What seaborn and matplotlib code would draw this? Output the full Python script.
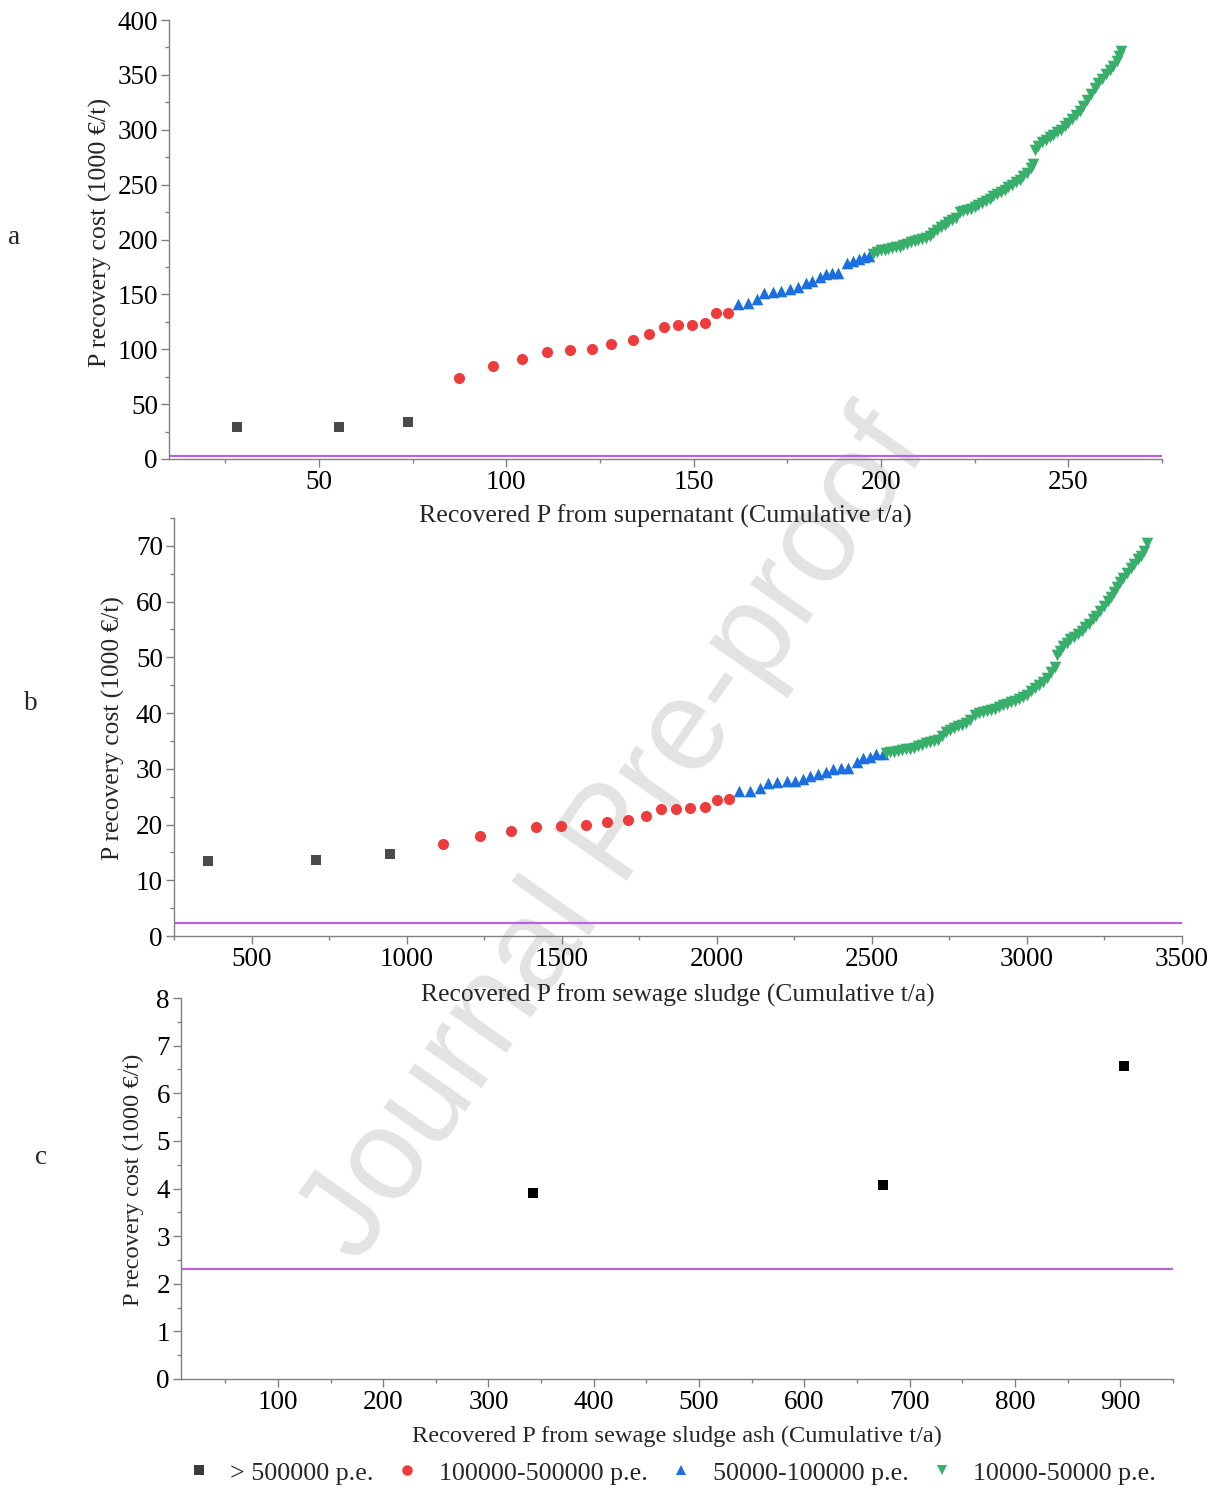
import numpy as np
import pandas as pd
import matplotlib
matplotlib.use("Agg")
import matplotlib.pyplot as plt
import seaborn as sns
from matplotlib.ticker import MultipleLocator
from matplotlib.lines import Line2D

sns.set_theme(style="ticks")
plt.rcParams['font.family'] = ['Liberation Serif', 'DejaVu Serif']

# ---------------- categories ----------------
categories = ["> 500000 p.e.", "100000-500000 p.e.", "50000-100000 p.e.", "10000-50000 p.e."]
cat_colors = ["#4a4a4a", "#ee3b3b", "#1b6fe0", "#38ae6b"]
cat_markers = ["s", "o", "^", "v"]
cat_sizes = [50, 64, 70, 70]

# ---------------- panel a : supernatant ----------------
a_large_x = [28.1, 55.3, 73.8]
a_large_y = [28.9, 29.2, 34.0]
a_mid_x = [87.3, 96.4, 104.1, 110.8, 116.9, 122.8, 128.0, 133.7, 138.1, 142.0,
           145.8, 149.5, 153.1, 156.1, 159.1]
a_mid_y = [73.5, 84.7, 91.4, 97.2, 99.3, 100.5, 105.0, 108.4, 113.6, 120.0,
           121.8, 122.4, 123.9, 132.8, 133.3]
a_small_x = [161.8, 164.5, 167.0, 168.9, 171.1, 173.4, 175.6, 177.8, 179.9, 181.7,
             183.6, 185.4, 187.0, 188.5, 190.9, 192.5, 194.1, 195.6, 196.9]
a_small_y = [141.2, 142.4, 145.5, 151.5, 151.9, 153.1, 154.6, 157.0, 160.1, 162.4,
             166.1, 168.3, 169.2, 169.8, 178.3, 180.7, 182.2, 183.8, 185.0]
a_tiny_x = [198.0, 199.0, 200.0, 201.0, 202.0, 203.0, 204.0, 205.0, 206.0, 207.0,
            208.0, 209.0, 210.0, 211.0, 212.0, 213.0, 214.0, 215.0, 216.0, 217.0,
            218.0, 219.0, 220.0, 221.0, 222.0, 223.0, 224.0, 225.0, 226.0, 227.0,
            228.0, 229.0, 230.0, 231.0, 232.0, 233.0, 234.0, 235.0, 236.0, 237.0,
            238.0, 239.0, 240.0, 240.7, 241.1, 242.0, 243.0, 244.0, 245.0, 246.0,
            247.0, 248.0, 249.0, 250.0, 251.0, 252.0, 253.0, 254.0, 255.0, 256.0,
            257.0, 258.0, 259.0, 260.0, 261.0, 262.0, 263.0, 263.6, 264.1]
a_tiny_y = [186.5, 189.0, 190.0, 190.8, 191.5, 192.2, 193.0, 193.6, 194.8, 196.0,
            197.5, 198.5, 199.5, 200.5, 201.5, 203.0, 206.0, 209.0, 211.0, 213.5,
            216.0, 217.5, 220.0, 225.0, 226.0, 227.0, 228.0, 229.5, 231.0, 233.0,
            235.0, 237.0, 239.5, 241.5, 243.5, 245.5, 248.0, 250.0, 252.0, 254.5,
            257.5, 261.0, 265.0, 269.0, 281.5, 285.0, 288.5, 291.0, 293.5, 295.5,
            297.5, 300.0, 303.0, 306.0, 309.5, 313.0, 317.0, 321.5, 327.0, 333.0,
            338.0, 342.5, 346.5, 350.5, 354.5, 358.5, 363.0, 367.0, 372.0]

# ---------------- panel b : sewage sludge ----------------
b_large_x = [359, 709, 947]
b_large_y = [13.5, 13.7, 14.7]
b_mid_x = [1117, 1238, 1335, 1418, 1499, 1577, 1646, 1713, 1771, 1820,
           1868, 1915, 1961, 2001, 2039]
b_mid_y = [16.5, 18.0, 18.8, 19.5, 19.8, 20.0, 20.5, 20.9, 21.6, 22.7,
           22.8, 23.0, 23.2, 24.4, 24.6]
b_small_x = [2072, 2107, 2139, 2166, 2195, 2225, 2252, 2278, 2302, 2327,
             2352, 2375, 2399, 2422, 2451, 2472, 2494, 2515, 2535]
b_small_y = [26.0, 26.1, 26.6, 27.5, 27.6, 27.8, 27.9, 28.2, 28.7, 29.0,
             29.5, 30.0, 30.2, 30.2, 31.3, 32.0, 32.2, 32.6, 32.7]
b_tiny_x = [2545, 2558, 2571, 2584, 2597, 2610, 2623, 2636, 2649, 2662,
            2675, 2688, 2701, 2714, 2727, 2740, 2753, 2766, 2779, 2792,
            2805, 2818, 2831, 2844, 2857, 2870, 2883, 2896, 2909, 2922,
            2935, 2948, 2961, 2974, 2987, 3000, 3013, 3026, 3039, 3052,
            3065, 3078, 3090, 3096, 3106, 3116, 3128, 3140, 3152, 3164,
            3176, 3188, 3200, 3212, 3224, 3236, 3248, 3260, 3270, 3280,
            3290, 3300, 3310, 3322, 3334, 3346, 3358, 3368, 3377, 3386]
b_tiny_y = [32.8, 33.0, 33.1, 33.2, 33.3, 33.5, 33.6, 33.8, 34.1, 34.3,
            34.6, 34.8, 35.0, 35.2, 35.9, 36.6, 37.0, 37.3, 37.6, 37.9,
            38.3, 38.8, 39.7, 40.0, 40.2, 40.4, 40.6, 40.8, 41.1, 41.4,
            41.7, 42.0, 42.2, 42.5, 42.8, 43.3, 44.0, 44.5, 45.0, 45.5,
            46.3, 47.3, 48.2, 50.5, 51.2, 52.0, 52.6, 53.2, 53.7, 54.1,
            54.7, 55.4, 56.0, 56.8, 57.5, 58.3, 59.2, 60.1, 60.9, 61.8,
            62.7, 63.5, 64.3, 65.2, 66.0, 66.8, 67.6, 68.2, 69.0, 70.6]

# ---------------- panel c : sewage sludge ash ----------------
c_large_x = [342, 675, 903]
c_large_y = [3.91, 4.08, 6.58]

threshold = 2.3

x_labels = ["Recovered P from supernatant (Cumulative t/a)",
            "Recovered P from sewage sludge (Cumulative t/a)",
            "Recovered P from sewage sludge ash (Cumulative t/a)"]
y_label = "P recovery cost (1000 \u20ac/t)"
panel_letters = ["a", "b", "c"]


def make_df(groups):
    frames = []
    for cat, xs, ys in groups:
        frames.append(pd.DataFrame({"x": xs, "y": ys, "cat": cat}))
    return pd.concat(frames, ignore_index=True)


df_a = make_df([(categories[0], a_large_x, a_large_y), (categories[1], a_mid_x, a_mid_y),
                (categories[2], a_small_x, a_small_y), (categories[3], a_tiny_x, a_tiny_y)])
df_b = make_df([(categories[0], b_large_x, b_large_y), (categories[1], b_mid_x, b_mid_y),
                (categories[2], b_small_x, b_small_y), (categories[3], b_tiny_x, b_tiny_y)])
df_c = make_df([(categories[0], c_large_x, c_large_y)])

W, H = 1214, 1488
fig = plt.figure(figsize=(W / 100, H / 100), dpi=100)
fig.patch.set_facecolor("white")


def px_axes(l, t, r, b):
    return fig.add_axes([l / W, 1 - b / H, (r - l) / W, (b - t) / H])


ax_a = px_axes(169, 20, 1162, 459)
ax_b = px_axes(174, 518, 1182, 936)
ax_c = px_axes(181, 998, 1173, 1379)

spine_col = "#808080"
tick_fs = 19.5
lab_sizes = [18.7, 18.35, 17.6]


def style_axis(ax):
    ax.patch.set_facecolor("none")
    for s in ["top", "right"]:
        ax.spines[s].set_visible(False)
    for s in ["left", "bottom"]:
        ax.spines[s].set_color(spine_col)
        ax.spines[s].set_linewidth(1.0)
    ax.tick_params(axis="both", which="major", length=6, width=1, color=spine_col,
                   labelsize=tick_fs, direction="out", pad=2, labelcolor="black")
    ax.tick_params(axis="both", which="minor", length=3, width=1, color=spine_col,
                   direction="out")
    ax.grid(False)


for ax, df in [(ax_a, df_a), (ax_b, df_b)]:
    for i, cat in enumerate(categories):
        sub = df[df["cat"] == cat]
        sns.scatterplot(data=sub, x="x", y="y", marker=cat_markers[i], color=cat_colors[i],
                        s=cat_sizes[i], linewidth=0, ax=ax, legend=False, zorder=3)

sns.scatterplot(data=df_c, x="x", y="y", marker="s", color="black", s=45,
                linewidth=0, ax=ax_c, legend=False, zorder=3)

line_col = "#bd62de"
for ax in [ax_a, ax_b, ax_c]:
    ax.axhline(threshold, color=line_col, lw=1.6, zorder=2)
    style_axis(ax)

# limits and ticks
ax_a.set_xlim(10, 275)
ax_a.set_ylim(0, 400)
ax_a.xaxis.set_major_locator(MultipleLocator(50))
ax_a.xaxis.set_minor_locator(MultipleLocator(25))
ax_a.yaxis.set_major_locator(MultipleLocator(50))
ax_a.yaxis.set_minor_locator(MultipleLocator(25))

ax_b.set_xlim(250, 3500)
ax_b.set_ylim(0, 75)
ax_b.xaxis.set_major_locator(MultipleLocator(500))
ax_b.xaxis.set_minor_locator(MultipleLocator(250))
ax_b.yaxis.set_major_locator(MultipleLocator(10))
ax_b.yaxis.set_minor_locator(MultipleLocator(5))

ax_c.set_xlim(8, 950)
ax_c.set_ylim(0, 8)
ax_c.xaxis.set_major_locator(MultipleLocator(100))
ax_c.xaxis.set_minor_locator(MultipleLocator(50))
ax_c.yaxis.set_major_locator(MultipleLocator(1))
ax_c.yaxis.set_minor_locator(MultipleLocator(0.5))

# labels
ylab_pos = [(-0.0695, 0.516), (-0.0605, 0.498), (-0.0484, 0.522)]
xlab_pos = [(0.5, -0.13), (0.5, -0.141), (0.5, -0.1496)]
for ax, xl, yp, xp, fs in zip([ax_a, ax_b, ax_c], x_labels, ylab_pos, xlab_pos, lab_sizes):
    ax.set_xlabel(xl, fontsize=fs, va="center")
    ax.set_ylabel(y_label, fontsize=fs, va="center")
    ax.xaxis.set_label_coords(*xp)
    ax.yaxis.set_label_coords(*yp)

# panel letters
for letter, (px, py) in zip(panel_letters, [(14, 237), (31, 703), (41, 1157)]):
    fig.text(px / W, 1 - py / H, letter, fontsize=19.5, ha="center", va="center")

# legend
handles = [Line2D([0], [0], marker=m, color=c if i > 0 else "#3a3a3a", linestyle="none",
                  markersize=7.5, markeredgewidth=0)
           for i, (m, c) in enumerate(zip(cat_markers, cat_colors))]
fig.legend(handles, categories, loc="center", bbox_to_anchor=(671 / W, 1 - 1473 / H),
           ncol=4, frameon=False, fontsize=18.7, handlelength=1.0,
           handletextpad=0.72, columnspacing=0.78, borderpad=0.1)

# watermark
fig.text(617 / W, 1 - 838 / H, "Journal Pre-proof", fontsize=93, rotation=55,
         color="#e3e3e3", ha="center", va="center", family=["Liberation Sans", "DejaVu Sans"],
         zorder=-5)

fig.savefig("out.png", dpi=100, facecolor="white")
